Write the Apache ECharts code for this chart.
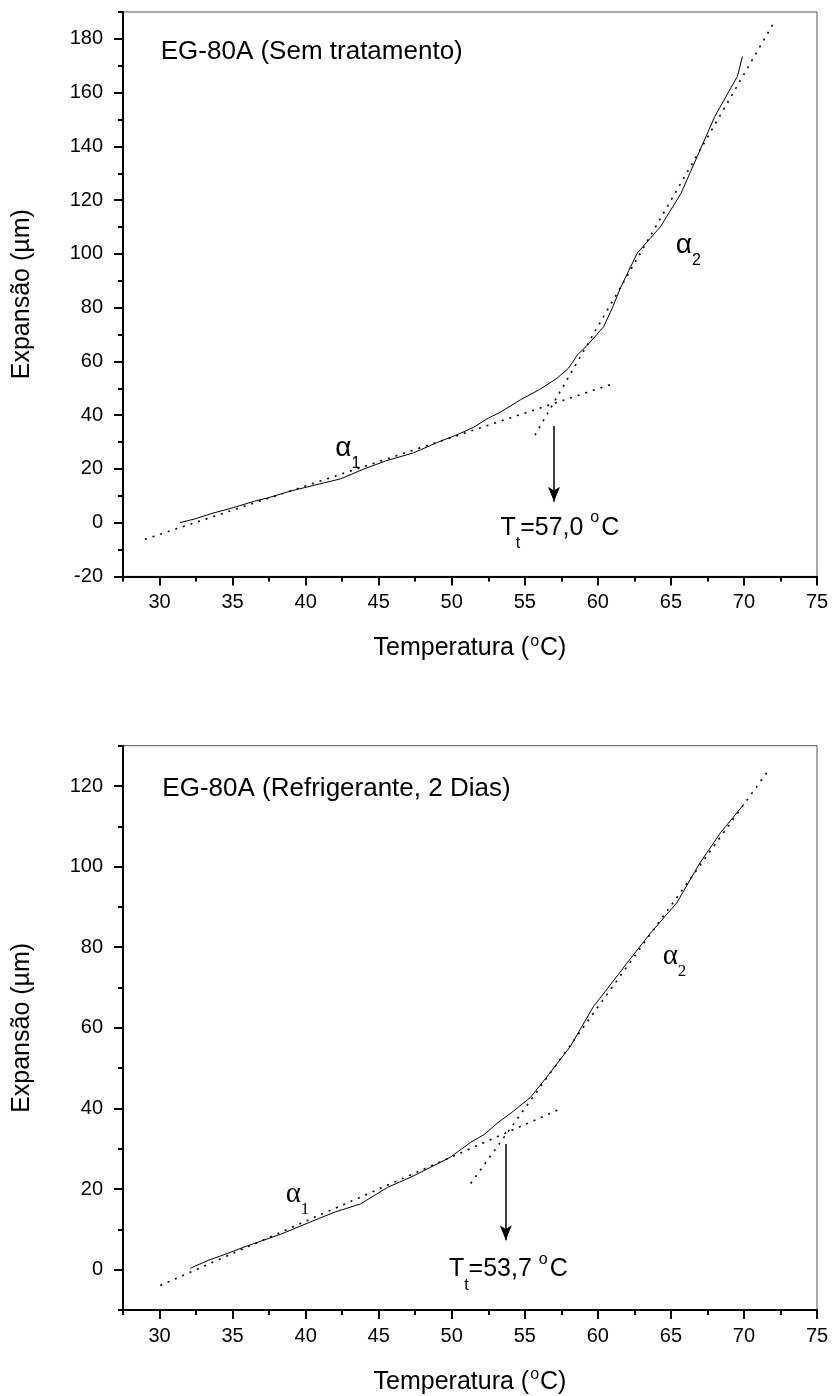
<!DOCTYPE html>
<html><head><meta charset="utf-8">
<script src="https://cdn.jsdelivr.net/npm/echarts@6/dist/echarts.min.js"></script>
<style>html,body{margin:0;padding:0;background:#fff}#c{width:832px;height:1396px}</style>
</head><body><div id="c"></div>
<script>
// ---- tick values ----
const xLabelTicks = [30, 35, 40, 45, 50, 55, 60, 65, 70, 75];
const xMinorTicks = [27.5, 32.5, 37.5, 42.5, 47.5, 52.5, 57.5, 62.5, 67.5, 72.5];
const topYLabels = [-20, 0, 20, 40, 60, 80, 100, 120, 140, 160, 180];
const topYMinor = [-10, 10, 30, 50, 70, 90, 110, 130, 150, 170, 190];
const botYLabels = [0, 20, 40, 60, 80, 100, 120];
const botYMinor = [-10, 10, 30, 50, 70, 90, 110, 130];

// ---- top panel: EG-80A (Sem tratamento) ----
const topTemp = [31.4, 32.5, 33.5, 35.0, 36.5, 37.4, 39.0, 40.5, 42.4, 44.0, 45.5, 47.4, 49.0, 50.5, 51.5, 52.5, 53.3, 54.7, 56.0, 57.2, 58.0, 58.6, 59.3, 60.4, 61.0, 61.6, 62.7, 64.3, 65.7, 66.8, 68.0, 69.1, 69.55, 69.9];
const topExp  = [0.0, 1.5, 3.3, 5.5, 8.0, 9.2, 11.8, 13.8, 16.3, 20.0, 23.0, 26.0, 29.8, 33.0, 35.5, 38.9, 41.0, 45.7, 49.5, 53.7, 57.5, 62.4, 66.1, 72.9, 80.0, 88.0, 100.3, 110.2, 122.6, 136.2, 151.1, 161.7, 166.0, 173.5];
const topFit1 = [[29.0, -6.2], [61.0, 51.6]];
const topFit2 = [[55.7, 32.6], [72.0, 185.6]];
const topArrow = [[57.0, 36.0], [57.0, 7.8]];
const topTitle = [30.05, 175.3];
const topAlpha1 = [42.0, 27.8];
const topAlpha2 = [65.3, 103.3];
const topTt = [53.3, -2.0];
const topTtText = '57,0';

// ---- bottom panel: EG-80A (Refrigerante, 2 Dias) ----
const botTemp = [32.1, 33.25, 34.4, 36.0, 38.3, 40.5, 42.0, 43.75, 45.6, 47.4, 49.9, 51.3, 52.2, 53.2, 54.0, 55.4, 56.5, 58.1, 59.7, 60.5, 62.0, 63.6, 65.4, 67.0, 68.4, 70.0];
const botExp  = [0.35, 2.2, 3.7, 5.9, 8.8, 12.1, 14.3, 16.3, 20.4, 23.3, 27.9, 31.6, 33.5, 36.6, 38.7, 42.8, 47.8, 55.3, 65.3, 69.0, 76.1, 83.5, 91.0, 101.0, 108.4, 115.5];
const botFit1 = [[30.05, -3.9], [57.56, 40.1]];
const botFit2 = [[51.3, 21.4], [71.6, 123.5]];
const botArrow = [[53.7, 31.2], [53.7, 7.3]];
const botTitle = [30.16, 119.2];
const botAlpha1 = [38.6, 18.8];
const botAlpha2 = [64.4, 77.7];
const botTt = [49.77, 0.1];
const botTtText = '53,7';

const FONT = '"Liberation Sans", Arial, Helvetica, sans-serif';
const SERIF = '"Liberation Serif", "Times New Roman", serif';
const NB = {color: '#000', textBorderWidth: 0, textBorderColor: 'transparent', textShadowBlur: 0, opacity: 1};

const richSans = {
  a: Object.assign({fontSize: 25, fontFamily: FONT, lineHeight: 48}, NB),
  t: Object.assign({fontSize: 26, fontFamily: FONT, lineHeight: 30}, NB),
  al: Object.assign({fontSize: 28, fontFamily: FONT, lineHeight: 48}, NB),
  sub: Object.assign({fontSize: 16, fontFamily: FONT, verticalAlign: 'bottom', lineHeight: 16}, NB),
  sup: Object.assign({fontSize: 16, fontFamily: FONT, verticalAlign: 'top', lineHeight: 16, padding: [6, 2, 0, 0]}, NB)
};
const richSerif = {
  a: Object.assign({fontSize: 25, fontFamily: FONT, lineHeight: 48}, NB),
  t: Object.assign({fontSize: 26, fontFamily: FONT, lineHeight: 30}, NB),
  al: Object.assign({fontSize: 29, fontFamily: SERIF, lineHeight: 48}, NB),
  sub: Object.assign({fontSize: 17, fontFamily: SERIF, verticalAlign: 'bottom', lineHeight: 17}, NB),
  sup: Object.assign({fontSize: 16, fontFamily: FONT, verticalAlign: 'top', lineHeight: 16, padding: [6, 2, 0, 0]}, NB)
};
const richSansT = Object.assign({}, richSans, {
  sub: Object.assign({fontSize: 16, fontFamily: FONT, verticalAlign: 'bottom', lineHeight: 16}, NB)
});
const richSerifT = Object.assign({}, richSerif, {
  sub: Object.assign({fontSize: 16, fontFamily: FONT, verticalAlign: 'bottom', lineHeight: 16}, NB)
});

const chart = echarts.init(document.getElementById('c'), null, {renderer: 'canvas'});

function axesFor(g, yMin, yMax, yLabels, yMinor) {
  const xMain = {
    type: 'value', gridIndex: g, min: 27.5, max: 75, position: 'bottom',
    axisLine: {show: true, onZero: false, lineStyle: {color: '#000', width: 2}},
    axisTick: {show: true, customValues: xLabelTicks, length: 9, lineStyle: {color: '#000', width: 2}},
    axisLabel: {show: true, customValues: xLabelTicks, fontSize: 20, color: '#000', fontFamily: FONT, margin: 16},
    splitLine: {show: false},
    name: '{a|Temperatura (}{s|o}{a|C)}', nameLocation: 'middle', nameGap: 57,
    nameTextStyle: {rich: {
      a: {fontSize: 25, fontFamily: FONT, color: '#000', lineHeight: 30},
      s: {fontSize: 16, fontFamily: FONT, color: '#000', verticalAlign: 'top', lineHeight: 16, padding: [0, 1, 0, 1]}
    }}
  };
  const xMinor = {
    type: 'value', gridIndex: g, min: 27.5, max: 75, position: 'bottom',
    axisLine: {show: false, onZero: false},
    axisTick: {show: true, customValues: xMinorTicks, length: 5, lineStyle: {color: '#000', width: 2}},
    axisLabel: {show: false}, splitLine: {show: false}
  };
  const yMain = {
    type: 'value', gridIndex: g, min: yMin, max: yMax, position: 'left',
    axisLine: {show: true, onZero: false, lineStyle: {color: '#000', width: 2}},
    axisTick: {show: true, customValues: yLabels, length: 9, lineStyle: {color: '#000', width: 2}},
    axisLabel: {show: true, customValues: yLabels, fontSize: 20, color: '#000', fontFamily: FONT, margin: 20},
    splitLine: {show: false},
    name: 'Expansão (µm)', nameLocation: 'middle', nameGap: 88, nameRotate: 90,
    nameTextStyle: {fontSize: 25, fontFamily: FONT, color: '#000'}
  };
  const yMinorAx = {
    type: 'value', gridIndex: g, min: yMin, max: yMax, position: 'left',
    axisLine: {show: false, onZero: false},
    axisTick: {show: true, customValues: yMinor, length: 5, lineStyle: {color: '#000', width: 2}},
    axisLabel: {show: false}, splitLine: {show: false}
  };
  return {x: [xMain, xMinor], y: [yMain, yMinorAx]};
}

const A0 = axesFor(0, -20, 190, topYLabels, topYMinor);
const A1 = axesFor(1, -10, 130, botYLabels, botYMinor);

function pairs(xs, ys) { return xs.map((x, i) => [x, ys[i]]); }

function panelSeries(ax, ay, temp, exp, fit1, fit2, arrow, title, titleText, a1, a2, tt, ttText, rich, richT) {
  const common = {xAxisIndex: ax, yAxisIndex: ay, silent: true, animation: false};
  const dotted = {color: '#000', width: 1.6, type: [2, 6]};
  const txt = (pos, fmt, r) => ({
    value: pos,
    label: Object.assign({show: true, position: 'right', distance: 0, formatter: fmt, rich: r}, NB)
  });
  return [
    Object.assign({type: 'line', data: pairs(temp, exp), showSymbol: false, symbol: 'none',
      lineStyle: {color: '#000', width: 1}}, common),
    Object.assign({type: 'line', data: fit1, showSymbol: false, symbol: 'none', lineStyle: dotted}, common),
    Object.assign({type: 'line', data: fit2, showSymbol: false, symbol: 'none', lineStyle: dotted}, common),
    Object.assign({type: 'line', data: arrow, showSymbol: false, symbol: 'none', lineStyle: {width: 0, opacity: 0},
      markLine: {silent: true, animation: false, symbol: ['none', 'arrow'], symbolSize: [9, 15],
        lineStyle: {type: 'solid', color: '#000', width: 1.5}, label: {show: false},
        data: [[{coord: arrow[0]}, {coord: arrow[1]}]]}}, common),
    Object.assign({type: 'scatter', symbolSize: 1, itemStyle: {color: 'rgba(255,255,255,0)', borderWidth: 0},
      data: [
        txt(title, '{t|' + titleText + '}', rich),
        txt(a1, '{al|α}{sub|1}', rich),
        txt(a2, '{al|α}{sub|2}', rich),
        txt(tt, '{a|T}{sub|t}{a|=' + ttText + ' }{sup|o}{a|C}', richT)
      ]}, common)
  ];
}

const option = {
  backgroundColor: '#fff',
  animation: false,
  grid: [
    {left: 123, right: 15, top: 12, bottom: 819.6, show: true, borderColor: '#555', borderWidth: 1, containLabel: false, outerBoundsMode: 'none'},
    {left: 123, right: 15, top: 745.7, bottom: 86, show: true, borderColor: '#555', borderWidth: 1, containLabel: false, outerBoundsMode: 'none'}
  ],
  xAxis: A0.x.concat(A1.x),
  yAxis: A0.y.concat(A1.y),
  series: [].concat(
    panelSeries(0, 0, topTemp, topExp, topFit1, topFit2, topArrow, topTitle, 'EG-80A (Sem tratamento)', topAlpha1, topAlpha2, topTt, topTtText, richSans, richSansT),
    panelSeries(2, 2, botTemp, botExp, botFit1, botFit2, botArrow, botTitle, 'EG-80A (Refrigerante, 2 Dias)', botAlpha1, botAlpha2, botTt, botTtText, richSerif, richSerifT)
  )
};
chart.setOption(option);
</script></body></html>
